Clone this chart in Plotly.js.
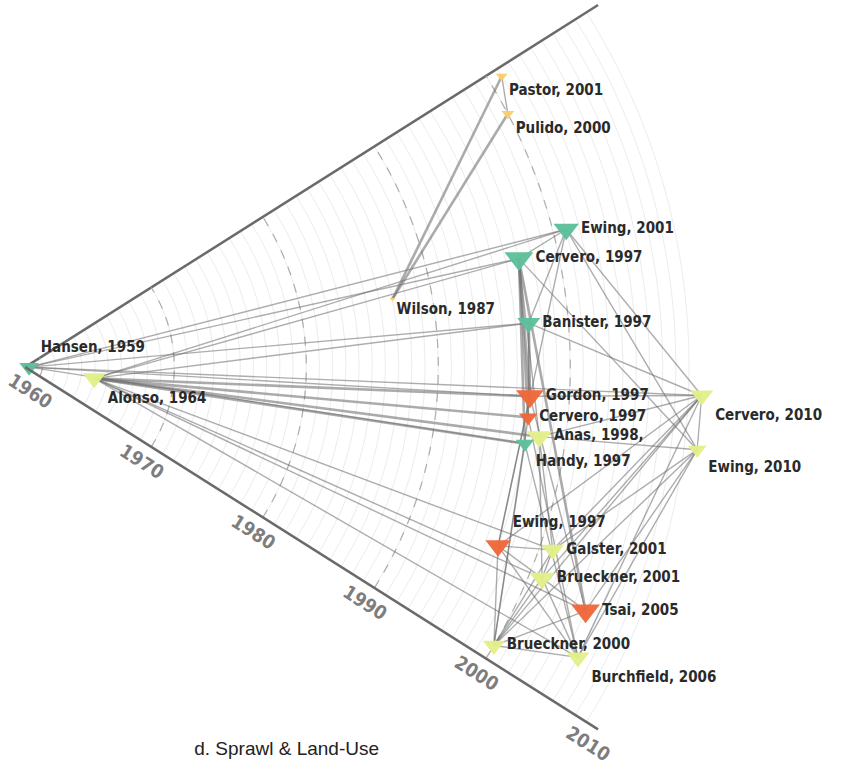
<!DOCTYPE html>
<html><head><meta charset="utf-8">
<script src="https://cdn.plot.ly/plotly-3.0.1.min.js"></script>
<style>html,body{margin:0;padding:0;background:#fff}#chart{width:843px;height:767px}</style>
</head><body><div id="chart"></div>
<script>
// ---- data ----
const names  = ['Hansen','Alonso','Wilson','Pastor','Pulido','Ewing','Cervero','Banister','Gordon','Cervero','Anas','Handy','Cervero','Ewing','Ewing','Galster','Brueckner','Tsai','Brueckner','Burchfield'];
const years  = [1959,1964,1987,2001,2000,2001,1997,1997,1997,1997,1998,1997,2010,2010,1997,2001,2001,2005,2000,2006];
const angles = [0,-9.2,10.5,31.4,27.7,14.3,12.4,5.0,-3.3,-5.7,-7.7,-8.7,-2.4,-7.0,-20.7,-19.1,-22.2,-23.5,-30.7,-27.7];
const groups = ['teal','lime','gold','gold','gold','teal','teal','teal','red','red','lime','teal','lime','lime','red','lime','lime','red','lime','lime'];
const weights = [17,20,5,10,11,22,25,20,24,16,22,16,20,16,22,20,22,25,19,20];
const suffix = ['','','','','','','','','','',',','','','','','','','','',''];
const tickYears = [1960,1970,1980,1990,2000,2010];
const title = 'd. Sprawl &amp; Land-Use';
// citation links (index pairs) and link strength
const linkFrom = [2,2,3, 0,0,0,0,0,0, 1,1,1,1,1,1,1,1,1,1,1, 5,5,5,5,5, 6,6,6,6,6,6, 7,7,7, 8,8,8, 9,9, 10,10,10,10, 11,11, 14,14,14,14, 15,15, 16,16,16, 18,18, 12,12,12,12,12,12, 13,13,13,13];
const linkTo   = [3,4,4, 5,6,7,8,11,12, 5,6,7,8,9,10,11,15,16,17,19, 6,7,12,13,14, 8,9,10,11,17,13, 8,12,9, 12,17,14, 19,18, 12,13,15,16, 18,19, 15,16,18,19, 16,18, 17,19,18, 19,17, 13,18,19,16,15,14, 18,19,15,17];
const linkStrength = [2,2,1, 1,1,1,1,1,1, 1,1,1,2,2,2,2,1,1,1,1, 1,1,1,1,1, 2,2,1,2,2,1, 2,1,1, 1,1,1, 1,1, 1,1,1,1, 1,1, 1,1,1,1, 1,1, 1,1,1, 1,1, 1,1,1,1,1,1, 1,1,1,1];

// ---- styles ----
const palette = {teal:'#5cc09a', lime:'#e2ef89', red:'#f0683c', gold:'#f6ce6c'};
const condensed = "'DejaVu Sans Condensed', 'DejaVu Sans', sans-serif";
const labelPos = ['top right','bottom right','bottom right','bottom right','bottom right','middle right','middle right','middle right','middle right','middle right','middle right','bottom right','bottom right','bottom right','top right','middle right','middle right','middle right','middle right','bottom right'];
const RANGE = [1958.7, 2010.05];
const SECTOR = 32.3;
const DOMAIN = {x:[0.0297, 0.834], y:[0.0491, 0.9935]};

function linkTrace(strength, width, color){
  const r = [], th = [];
  for (let i = 0; i < linkFrom.length; i++){
    if (linkStrength[i] !== strength) continue;
    r.push(years[linkFrom[i]], years[linkTo[i]], null);
    th.push(angles[linkFrom[i]], angles[linkTo[i]], null);
  }
  return {type:'scatterpolar', subplot:'polar2', mode:'lines', r:r, theta:th,
    line:{color:color, width:width}, hoverinfo:'skip', showlegend:false, cliponaxis:false, connectgaps:false};
}

const nodes = {
  type:'scatterpolar', subplot:'polar2', mode:'markers+text',
  r: years, theta: angles,
  text: names.map((n,i)=> n + ', ' + years[i] + suffix[i]),
  textposition: labelPos,
  textfont:{family:condensed, size:15, color:'#2a2a2a', weight:700},
  marker:{symbol:'triangle-down', size:weights, color:groups.map(g=>palette[g]), opacity:0.97, line:{width:0}},
  cliponaxis:false, showlegend:false, hoverinfo:'text'
};

// base subplot (yearly rings + upper edge) needs a trace to be drawn
const baseRings = {type:'scatterpolar', subplot:'polar', mode:'lines', r:[], theta:[], hoverinfo:'skip', showlegend:false};

const hiddenAngular = {showline:false, showgrid:false, showticklabels:false, ticks:''};

const layout = {
  width:843, height:767,
  margin:{l:0,r:0,t:0,b:0},
  paper_bgcolor:'#fff',
  showlegend:false,
  title:{text:title, x:0.34, xanchor:'center', y:0.024, yanchor:'middle',
    font:{family:"'Liberation Sans', Arial, sans-serif", size:19, color:'#222'}},
  polar:{
    domain:DOMAIN, sector:[-SECTOR, SECTOR], bgcolor:'#fff',
    radialaxis:{range:RANGE, angle:SECTOR, tickmode:'linear', tick0:1958, dtick:1,
      showgrid:true, gridcolor:'#ececec', gridwidth:1,
      showline:true, linecolor:'#6a6a6a', linewidth:2.5, showticklabels:false, ticks:''},
    angularaxis:hiddenAngular
  },
  polar2:{
    domain:DOMAIN, sector:[-SECTOR, SECTOR], bgcolor:'rgba(0,0,0,0)',
    radialaxis:{range:RANGE, angle:-SECTOR, tickmode:'array', tickvals:tickYears, ticktext:tickYears.map(String),
      showgrid:true, gridcolor:'#adadad', gridwidth:1.2, griddash:'dash',
      showline:true, linecolor:'#6a6a6a', linewidth:2.5, ticks:'',
      tickfont:{family:condensed, size:19, color:'#7d7d7d', weight:700}},
    angularaxis:hiddenAngular
  }
};

Plotly.newPlot('chart', [
  baseRings,
  linkTrace(1, 1.4, 'rgba(105,105,105,0.55)'),
  linkTrace(2, 2.6, 'rgba(115,115,115,0.6)'),
  nodes
], layout, {staticPlot:true, displayModeBar:false});
</script></body></html>
